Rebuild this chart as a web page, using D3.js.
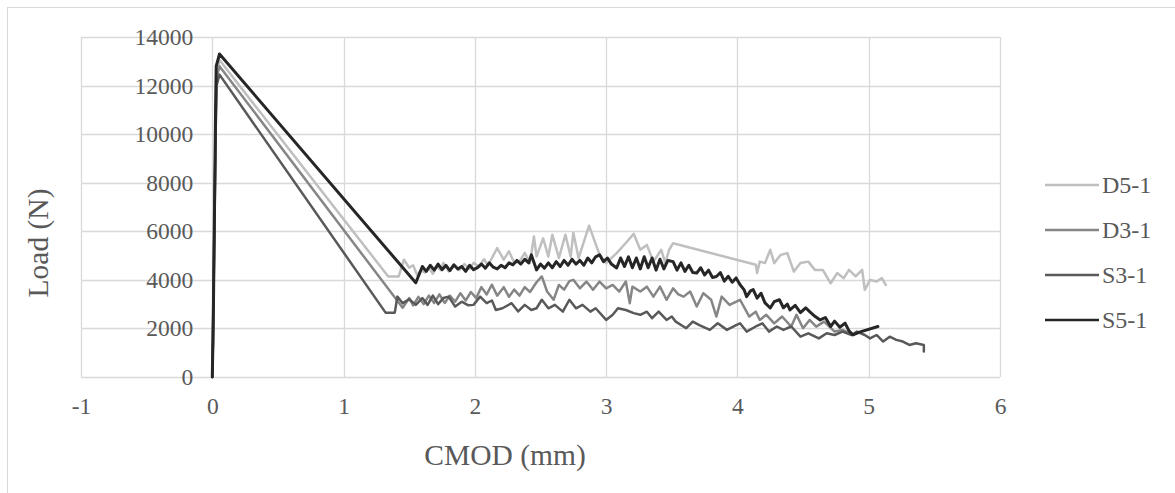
<!DOCTYPE html>
<html>
<head>
<meta charset="utf-8">
<script src="https://cdn.jsdelivr.net/npm/d3@7"></script>
<style>
  body { margin: 0; background: #fff; }
  svg { display: block; }
  text { font-family: "Liberation Serif", "Times New Roman", serif; }
</style>
</head>
<body>
<svg id="chart" width="1175" height="493"></svg>
<script>
// series data, [CMOD (mm), Load (N)]
var seriesNames = ["D5-1", "D3-1", "S3-1", "S5-1"];
var seriesColors = ["#bfbfbf", "#868686", "#595959", "#262626"];

var d5_1 = [[0,0],[0.005,1800],[0.01,4200],[0.018,7500],[0.025,10400],[0.032,12500],[0.055,13050],
  [1.34,4140],[1.42,4140],[1.46,4830],[1.50,4500],[1.53,4600],[1.56,4200],[1.59,4400],[1.62,4300],
  [1.65,4500],[1.68,4250],[1.71,4550],[1.74,4400],[1.76,4700],[1.80,4350],[1.84,4600],[1.88,4400],
  [1.92,4650],[1.96,4450],[1.99,4700],[2.03,4550],[2.07,4850],[2.10,4600],[2.13,4900],[2.17,5310],
  [2.22,4830],[2.26,5180],[2.30,4700],[2.34,4760],[2.38,5110],[2.42,4700],[2.45,5790],[2.47,4960],
  [2.52,5710],[2.56,4960],[2.59,5860],[2.64,4900],[2.69,5860],[2.73,4950],[2.75,5940],[2.79,4900],
  [2.87,6230],[2.95,5030],[3.00,4690],[3.08,5100],[3.16,5580],[3.21,5900],[3.26,5240],[3.31,5440],
  [3.36,4750],[3.42,5240],[3.45,4690],[3.48,5240],[3.51,5510],[4.14,4620],[4.15,4280],[4.17,4750],
  [4.21,4690],[4.25,5240],[4.28,4690],[4.33,5030],[4.38,5100],[4.43,4340],[4.48,4690],[4.54,4750],
  [4.59,4410],[4.65,4410],[4.71,3860],[4.76,4280],[4.81,4070],[4.85,4410],[4.90,4140],[4.95,4410],
  [4.97,3590],[5.01,4000],[5.06,3930],[5.10,4070],[5.13,3790]];

var d3_1 = [[0,0],[0.005,1500],[0.01,3800],[0.018,7000],[0.025,10000],[0.032,12300],[0.055,12800],
  [1.45,2850],[1.50,3250],[1.53,2950],[1.57,3300],[1.61,3000],[1.65,3350],[1.69,3050],[1.73,3400],
  [1.77,3050],[1.81,3350],[1.85,3100],[1.89,3450],[1.93,3150],[1.97,3500],[2.01,3250],[2.05,3700],
  [2.09,3400],[2.13,3800],[2.17,3350],[2.22,3700],[2.26,3300],[2.30,3600],[2.34,3350],[2.38,3700],
  [2.42,3500],[2.47,3900],[2.51,4140],[2.55,3520],[2.60,3180],[2.64,3790],[2.68,3600],[2.72,3950],
  [2.75,4000],[2.80,3650],[2.85,3930],[2.90,3590],[2.95,3930],[3.00,3650],[3.05,3790],[3.10,3520],
  [3.15,3930],[3.18,3040],[3.20,3720],[3.26,3520],[3.31,3720],[3.36,3310],[3.41,3720],[3.46,3180],
  [3.51,3650],[3.55,3400],[3.59,3310],[3.64,3520],[3.69,2900],[3.74,3450],[3.80,3180],[3.84,2490],
  [3.88,3310],[3.94,2970],[4.02,3180],[4.09,2490],[4.14,2690],[4.17,2350],[4.22,2560],[4.28,2210],
  [4.34,2490],[4.41,2075],[4.45,2560],[4.50,2010],[4.55,2350],[4.60,2075],[4.66,2280],[4.74,1870],
  [4.80,1940],[4.84,1850]];

var s3_1 = [[0,0],[0.005,1400],[0.01,3600],[0.018,6800],[0.025,9800],[0.032,12000],[0.055,12450],
  [1.32,2650],[1.39,2650],[1.41,3310],[1.45,3040],[1.50,3200],[1.55,2970],[1.60,3250],[1.64,2970],
  [1.68,3350],[1.72,3000],[1.76,3250],[1.80,3310],[1.85,2900],[1.90,3100],[1.95,2950],[1.99,2970],
  [2.04,3310],[2.09,3040],[2.13,3150],[2.16,2760],[2.21,2830],[2.28,3040],[2.33,2700],[2.38,2970],
  [2.43,2760],[2.47,2830],[2.51,3180],[2.56,2830],[2.61,2970],[2.67,2690],[2.72,3180],[2.77,2830],
  [2.82,2970],[2.88,2690],[2.92,2830],[3.00,2350],[3.05,2560],[3.09,2830],[3.15,2760],[3.21,2630],
  [3.26,2560],[3.31,2690],[3.35,2420],[3.40,2690],[3.46,2350],[3.50,2490],[3.53,2280],[3.61,2010],
  [3.66,2280],[3.71,2140],[3.79,1940],[3.85,2210],[3.92,1940],[3.99,2140],[4.02,2210],[4.07,1870],
  [4.14,2080],[4.19,2210],[4.24,1870],[4.30,2080],[4.35,1940],[4.41,2080],[4.48,1660],[4.54,1800],
  [4.62,1590],[4.68,1800],[4.74,1730],[4.80,1870],[4.87,1730],[4.91,1870],[4.97,1730],[5.01,1590],
  [5.06,1730],[5.11,1460],[5.16,1660],[5.21,1530],[5.26,1460],[5.31,1320],[5.36,1390],[5.42,1320],
  [5.42,1050]];

var s5_1 = [[0,0],[0.005,1500],[0.01,3500],[0.015,6000],[0.02,8500],[0.025,11000],[0.03,12800],[0.055,13300],
  [1.55,3880],[1.60,4550],[1.63,4350],[1.66,4600],[1.69,4400],[1.72,4650],[1.75,4420],[1.78,4600],
  [1.81,4380],[1.84,4620],[1.87,4450],[1.90,4550],[1.93,4350],[1.96,4600],[1.99,4420],[2.02,4500],
  [2.05,4650],[2.08,4480],[2.11,4700],[2.14,4520],[2.17,4450],[2.20,4600],[2.23,4500],[2.26,4700],
  [2.29,4620],[2.32,4800],[2.35,4650],[2.38,4850],[2.41,4700],[2.43,5030],[2.47,4410],[2.50,4650],
  [2.53,4480],[2.56,4700],[2.59,4500],[2.62,4750],[2.65,4550],[2.68,4800],[2.71,4600],[2.74,4850],
  [2.77,4650],[2.80,4800],[2.83,4600],[2.86,4900],[2.89,4700],[2.92,4950],[2.95,5030],[2.98,4750],
  [3.01,4900],[3.04,4650],[3.08,4490],[3.11,4900],[3.14,4550],[3.17,4950],[3.20,4500],[3.23,4900],
  [3.26,4450],[3.29,4950],[3.32,4500],[3.35,4900],[3.38,4400],[3.41,4850],[3.44,4450],[3.47,4800],
  [3.51,4750],[3.54,4400],[3.57,4700],[3.60,4350],[3.63,4600],[3.66,4300],[3.69,4280],[3.72,4500],
  [3.75,4200],[3.78,4400],[3.81,4100],[3.84,4140],[3.87,4300],[3.90,3950],[3.93,4150],[3.96,3900],
  [3.99,4080],[4.02,3800],[4.05,3600],[4.07,3310],[4.10,3550],[4.12,3600],[4.15,3250],[4.18,3450],
  [4.21,3050],[4.25,2840],[4.28,3100],[4.32,3180],[4.35,2850],[4.38,3000],[4.40,2760],[4.44,2950],
  [4.48,2650],[4.52,2850],[4.55,2690],[4.59,2500],[4.63,2350],[4.67,2450],[4.71,2080],[4.74,2300],
  [4.78,2050],[4.82,2220],[4.85,1900],[4.88,1730],[4.93,1850],[5.07,2080]];

var allSeries = [d5_1, d3_1, s3_1, s5_1];

var xTicks = [-1, 0, 1, 2, 3, 4, 5, 6];
var yTicks = [0, 2000, 4000, 6000, 8000, 10000, 12000, 14000];

var svg = d3.select("#chart");
var GRID = "#d9d9d9";
var TEXT = "#595959";

// outer chart border
svg.append("rect")
    .attr("x", 7.5).attr("y", 7.5)
    .attr("width", 1200).attr("height", 600)
    .style("fill", "none").style("stroke", GRID);

var x = d3.scaleLinear().domain([-1, 6]).range([81, 1000]);
var y = d3.scaleLinear().domain([0, 14000]).range([377, 37]);

// grid
var g = svg.append("g");
g.selectAll(".hgrid").data(yTicks).enter().append("line")
    .attr("x1", x(-1)).attr("x2", x(6))
    .attr("y1", function(d){ return Math.round(y(d)) + 0.5; })
    .attr("y2", function(d){ return Math.round(y(d)) + 0.5; })
    .style("stroke", GRID).style("stroke-width", 1.3);
g.selectAll(".vgrid").data(xTicks).enter().append("line")
    .attr("y1", y(0)).attr("y2", y(14000))
    .attr("x1", function(d){ return Math.round(x(d)) + 0.5; })
    .attr("x2", function(d){ return Math.round(x(d)) + 0.5; })
    .style("stroke", GRID).style("stroke-width", 1.3);

// axes (labels only), vertical axis crosses at x = 0 like Excel
var yAxis = svg.append("g")
    .attr("transform", "translate(" + (x(0) - 19) + ",0)")
    .call(d3.axisLeft(y).tickValues(yTicks).tickSize(0).tickPadding(0).tickFormat(function(d){ return String(d); }));
yAxis.select(".domain").remove();
yAxis.attr("font-family", null);
yAxis.selectAll("text")
    .style("font-size", "23.5px").style("fill", TEXT);

var xAxis = svg.append("g")
    .attr("transform", "translate(0," + y(0) + ")")
    .call(d3.axisBottom(x).tickValues(xTicks).tickSize(0).tickPadding(20).tickFormat(function(d){ return String(d); }));
xAxis.select(".domain").remove();
xAxis.attr("font-family", null);
xAxis.selectAll("text")
    .style("font-size", "23.5px").style("fill", TEXT);

// axis titles
svg.append("text")
    .attr("x", 505).attr("y", 465)
    .attr("text-anchor", "middle")
    .style("font-size", "29.5px").style("fill", TEXT)
    .text("CMOD (mm)");
svg.append("text")
    .attr("transform", "translate(48,243) rotate(-90)")
    .attr("text-anchor", "middle")
    .style("font-size", "29.5px").style("fill", TEXT)
    .text("Load (N)");

// series lines
var line = d3.line()
    .x(function(d){ return x(d[0]); })
    .y(function(d){ return y(d[1]); });

svg.append("g").selectAll("path")
    .data(allSeries).enter().append("path")
    .attr("d", line)
    .style("fill", "none")
    .style("stroke", function(d, i){ return seriesColors[i]; })
    .style("stroke-width", function(d, i){ return i == 3 ? 3 : 2.5; })
    .style("stroke-linejoin", "round")
    .style("stroke-linecap", "round");

// legend
var legend = svg.append("g").selectAll("g")
    .data(seriesNames).enter().append("g")
    .attr("transform", function(d, i){ return "translate(1045," + (185 + i * 45) + ")"; });
legend.append("line")
    .attr("x1", 0).attr("x2", 54)
    .style("stroke", function(d, i){ return seriesColors[i]; })
    .style("stroke-width", 2.5);
legend.append("text")
    .attr("x", 57).attr("dy", "0.35em")
    .style("font-size", "24px").style("fill", TEXT)
    .text(function(d){ return d; });
</script>
</body>
</html>
